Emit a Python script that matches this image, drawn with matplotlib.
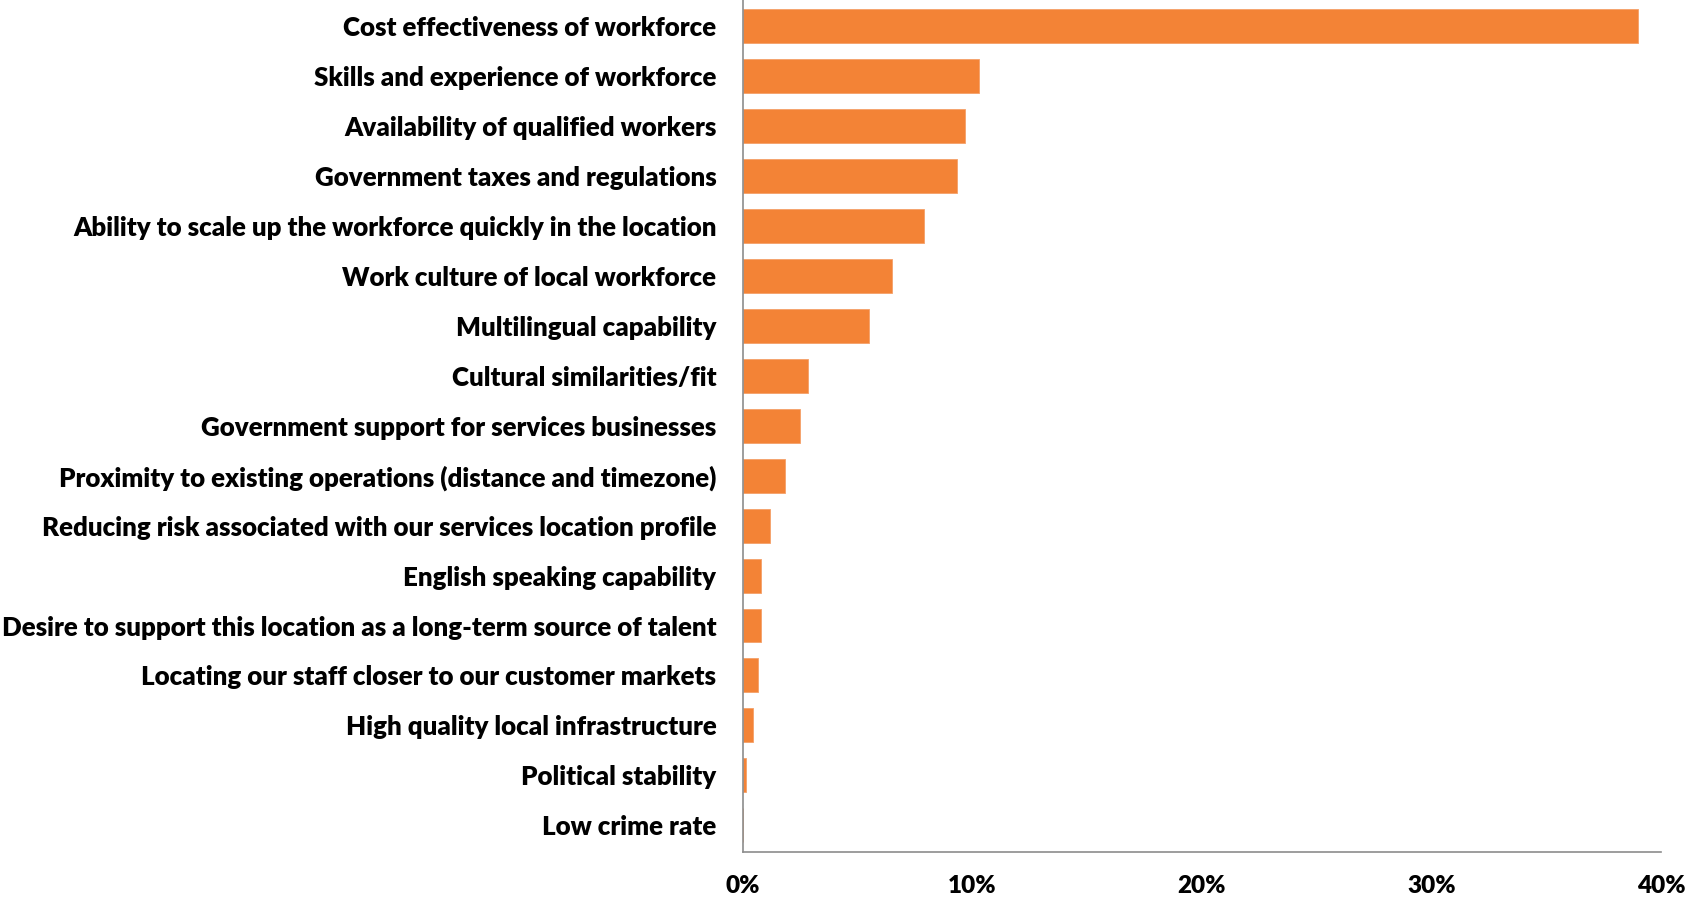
import matplotlib
matplotlib.use('agg')
from matplotlib import pyplot as plt
import numpy as np

# categories from top to bottom
factors = [
    'Cost effectiveness of workforce',
    'Skills and experience of workforce',
    'Availability of qualified workers',
    'Government taxes and regulations',
    'Ability to scale up the workforce quickly in the location',
    'Work culture of local workforce',
    'Multilingual capability',
    'Cultural similarities/fit',
    'Government support for services businesses',
    'Proximity to existing operations (distance and timezone)',
    'Reducing risk associated with our services location profile',
    'English speaking capability',
    'Desire to support this location as a long-term source of talent',
    'Locating our staff closer to our customer markets',
    'High quality local infrastructure',
    'Political stability',
    'Low crime rate',
]
# share of respondents, percent
share = [39.0, 10.3, 9.7, 9.35, 7.9, 6.5, 5.5, 2.85, 2.5, 1.85, 1.2,
         0.8, 0.8, 0.65, 0.45, 0.13, 0.0]
xticks_pct = [0, 10, 20, 30, 40]

plt.rcParams['font.family'] = ['Lato', 'DejaVu Sans']

fig = plt.figure(figsize=(16.85, 9.02), dpi=100)
ax = fig.add_axes([0.4408, 0.0558, 0.545, 0.9442])

y = np.arange(len(factors))
ax.barh(y, share, height=0.68, color='#F38336', edgecolor='#F5A068', linewidth=0.6)

ax.set_ylim(len(factors) - 0.47, -0.53)
ax.set_xlim(0, 40)
ax.set_yticks(y)
ax.set_yticklabels(factors, fontsize=18.6, fontweight='heavy')
ax.set_xticks(xticks_pct)
ax.set_xticklabels([str(t) + '%' for t in xticks_pct], fontsize=17.5, fontweight='heavy')
ax.tick_params(axis='y', length=0, pad=19)
ax.tick_params(axis='x', length=0, pad=17)

for side in ['top', 'right']:
    ax.spines[side].set_visible(False)
for side in ['left', 'bottom']:
    ax.spines[side].set_color('#8c8c8c')
    ax.spines[side].set_linewidth(1.2)

plt.savefig('out.png', dpi=100)
